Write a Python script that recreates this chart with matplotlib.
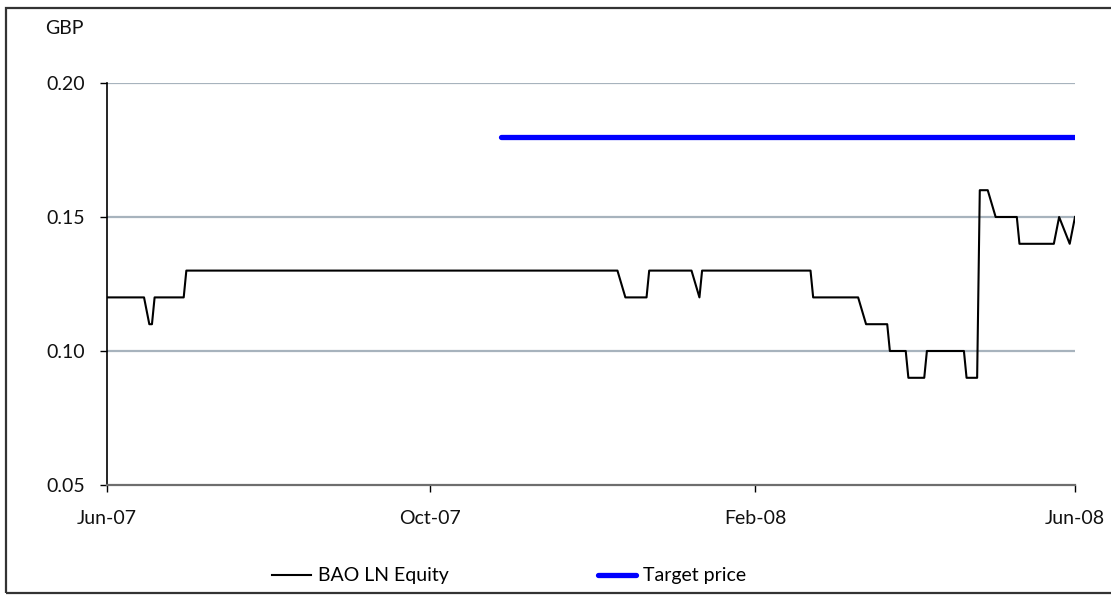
import matplotlib
matplotlib.use("Agg")
import matplotlib.pyplot as plt
import matplotlib.dates as mdates
import pandas as pd
from matplotlib.lines import Line2D
from matplotlib.patches import Rectangle

# ---- data ----
price_dates = ["2007-06-01", "2007-06-15", "2007-06-17", "2007-06-18", "2007-06-19",
               "2007-06-30", "2007-07-01",
               "2007-12-11", "2007-12-14", "2007-12-22", "2007-12-23",
               "2008-01-08", "2008-01-11", "2008-01-12",
               "2008-02-22", "2008-02-23",
               "2008-03-11", "2008-03-14", "2008-03-22", "2008-03-23",
               "2008-03-29", "2008-03-30", "2008-04-05", "2008-04-06",
               "2008-04-20", "2008-04-21", "2008-04-25", "2008-04-26",
               "2008-04-29", "2008-05-02", "2008-05-10", "2008-05-11",
               "2008-05-24", "2008-05-26", "2008-05-30", "2008-06-01"]
price_values = [0.12, 0.12, 0.11, 0.11, 0.12,
                0.12, 0.13,
                0.13, 0.12, 0.12, 0.13,
                0.13, 0.12, 0.13,
                0.13, 0.12,
                0.12, 0.11, 0.11, 0.10,
                0.10, 0.09, 0.09, 0.10,
                0.10, 0.09, 0.09, 0.16,
                0.16, 0.15, 0.15, 0.14,
                0.14, 0.15, 0.14, 0.15]
target_dates = ["2007-10-28", "2008-06-01"]
target_values = [0.18, 0.18]
y_ticks = [0.05, 0.10, 0.15, 0.20]
x_ticks = ["2007-06-01", "2007-10-01", "2008-02-01", "2008-06-01"]
series_names = ["BAO LN Equity", "Target price"]
unit_label = "GBP"

plt.rcParams['font.family'] = ['Lato', 'DejaVu Sans']
FS = 14

fig = plt.figure(figsize=(11.11, 5.95), dpi=100)
fig.patch.set_facecolor("white")
# outer frame
fig.add_artist(Rectangle((6/1111, 2/595), 1.2, 585/595, transform=fig.transFigure,
                         fill=False, edgecolor="#333333", linewidth=1.6))

ax = fig.add_axes([107/1111, 1 - 485/595, 968/1111, 402/595])

pd_dates = pd.to_datetime(price_dates)
td = pd.to_datetime(target_dates)
ax.plot(pd_dates, price_values, color="black", linewidth=1.5, zorder=3)
ax.plot(td, target_values, color="#0000FF", linewidth=3.8, solid_capstyle="round", zorder=3)

ax.set_xlim(pd.Timestamp(x_ticks[0]), pd.Timestamp(x_ticks[-1]))
ax.set_ylim(0.05, 0.20)
ax.set_yticks(y_ticks)
ax.set_yticklabels([f"{v:.2f}" for v in y_ticks])
ax.set_xticks(pd.to_datetime(x_ticks))
ax.xaxis.set_major_formatter(mdates.DateFormatter("%b-%y"))

for v in y_ticks[1:]:
    ax.axhline(v, color="#A7B3BD", linewidth=1.6, zorder=1)

for s in ["top", "right"]:
    ax.spines[s].set_visible(False)
ax.spines["left"].set_color("black")
ax.spines["left"].set_linewidth(1.2)
ax.spines["bottom"].set_color("#6e6e6e")
ax.spines["bottom"].set_linewidth(1.6)

ax.tick_params(axis="both", direction="out", length=5, width=1.0, color="black",
               labelsize=FS, labelcolor="#111111")
ax.tick_params(axis="y", pad=11)
ax.tick_params(axis="x", pad=13)

fig.text(45/1111, 1 - 29/595, unit_label, fontsize=FS, color="#111111", va="center", ha="left")

handles = [Line2D([0], [0], color="black", linewidth=1.5),
           Line2D([0], [0], color="#0000FF", linewidth=3.8, solid_capstyle="round")]
fig.legend(handles, series_names, loc="center", bbox_to_anchor=(0.4585, 1 - 576/595),
           ncol=2, frameon=False, fontsize=FS, handlelength=2.0, handletextpad=0.35,
           columnspacing=7.65)

fig.savefig("out.png", dpi=100, facecolor="white")
